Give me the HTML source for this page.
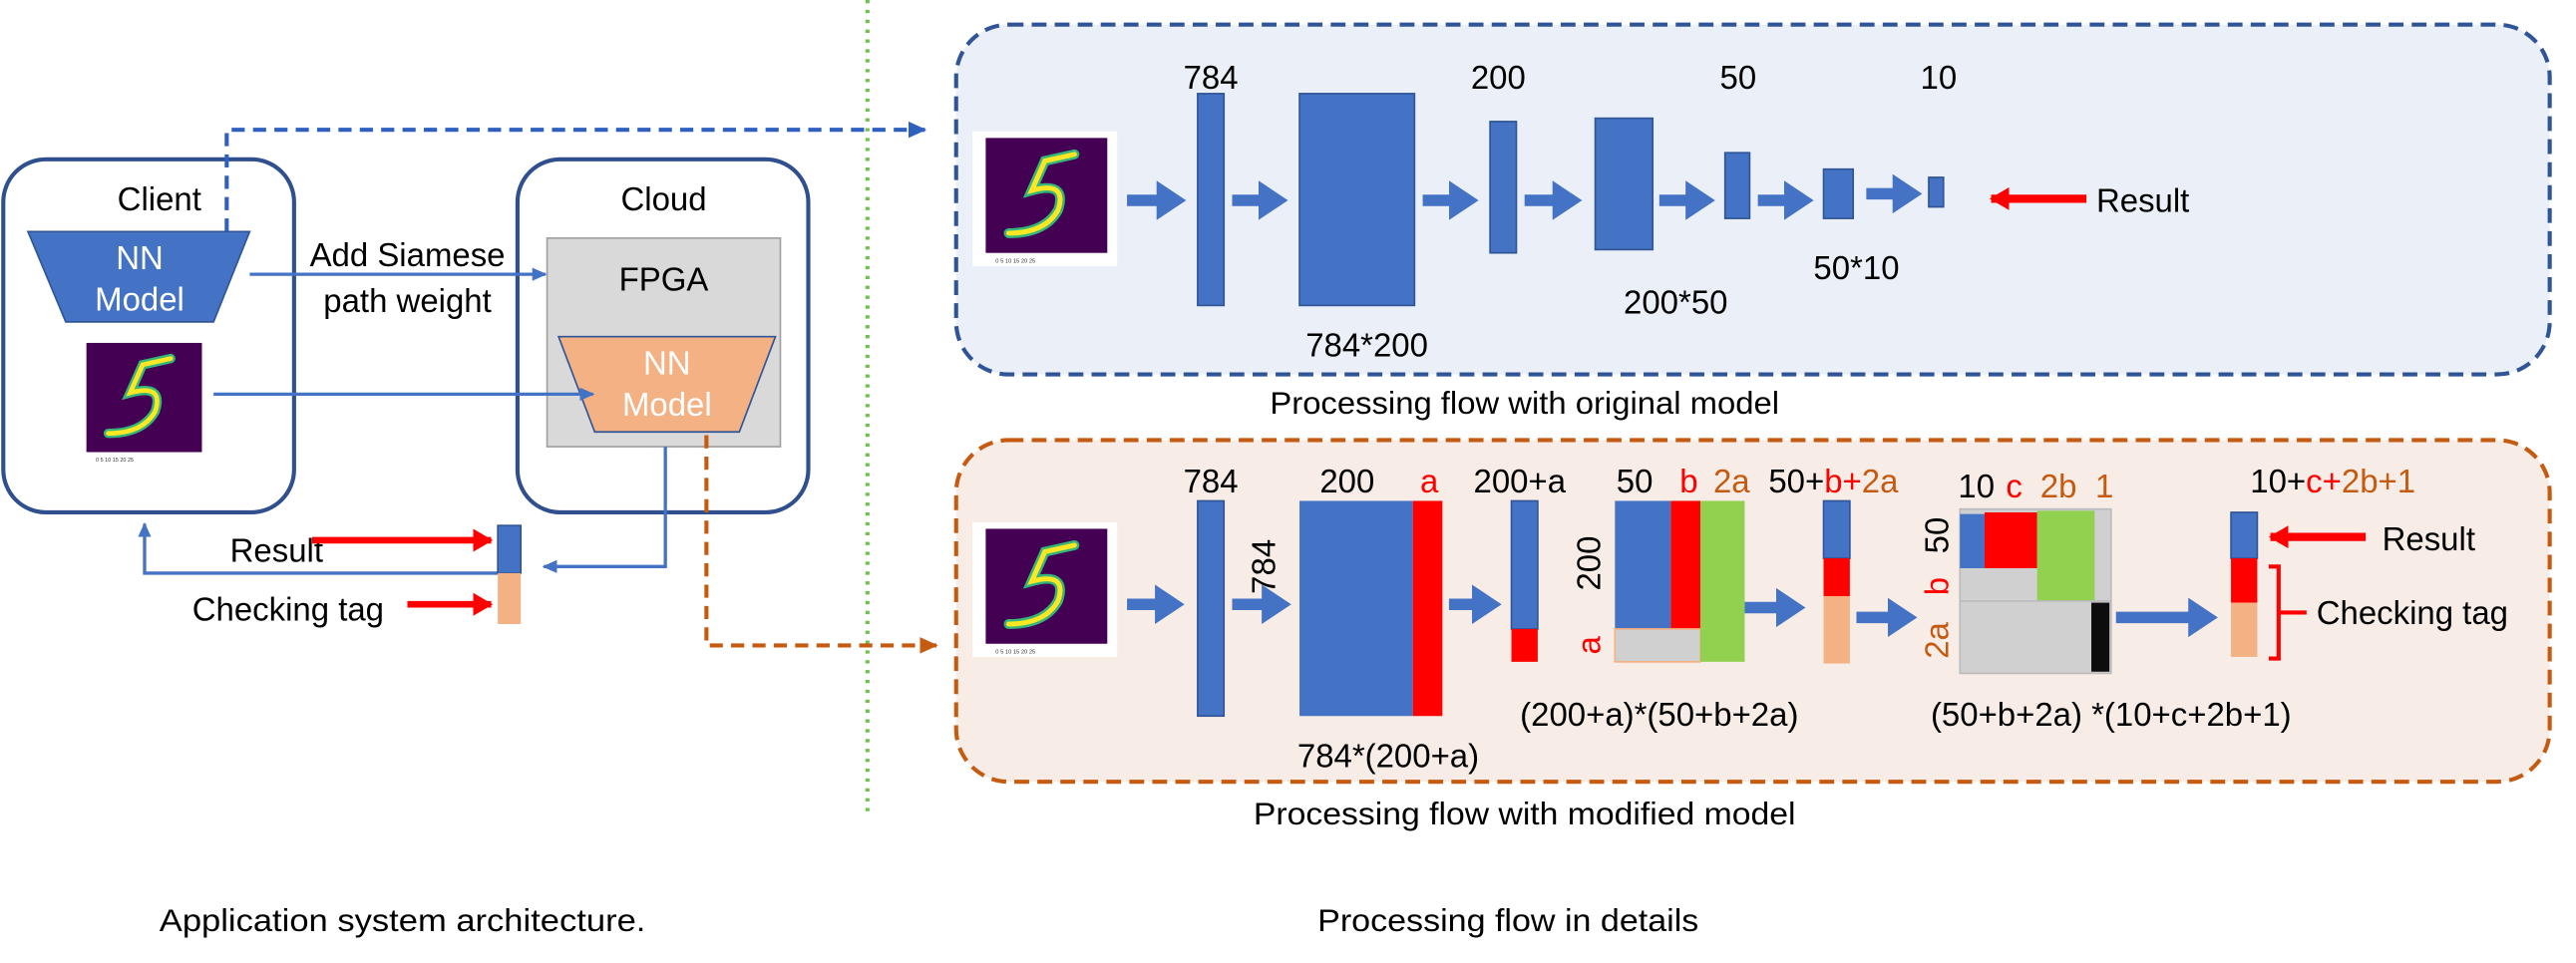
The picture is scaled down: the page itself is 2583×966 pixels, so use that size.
<!DOCTYPE html>
<html><head><meta charset="utf-8"><style>
html,body{margin:0;padding:0;background:#fff;width:2583px;height:966px;overflow:hidden}
svg{display:block}
text{font-family:"Liberation Sans",Arial,sans-serif}
</style></head><body>
<svg width="2583" height="966" viewBox="0 0 1568 586.4" xmlns="http://www.w3.org/2000/svg">
<defs>
<marker id="ah" markerWidth="10" markerHeight="10" refX="8" refY="5" orient="auto" markerUnits="userSpaceOnUse"><path d="M0,1 L9,5 L0,9 Z" fill="#4472c4"/></marker>
<marker id="ahd" markerWidth="12" markerHeight="12" refX="10" refY="6" orient="auto" markerUnits="userSpaceOnUse"><path d="M0,1 L11,6 L0,11 Z" fill="#2f5fbf"/></marker>
<marker id="aho" markerWidth="12" markerHeight="12" refX="10" refY="6" orient="auto" markerUnits="userSpaceOnUse"><path d="M0,1 L11,6 L0,11 Z" fill="#c55a11"/></marker>
<marker id="ahr" markerWidth="14" markerHeight="14" refX="11" refY="7" orient="auto" markerUnits="userSpaceOnUse"><path d="M0,0 L12,7 L0,14 Z" fill="#ff0000"/></marker>
<marker id="big" markerWidth="20" markerHeight="24" refX="2" refY="12" orient="auto" markerUnits="userSpaceOnUse"><path d="M0,0 L18,12 L0,24 Z" fill="#4472c4"/></marker>
<g id="mnist">
<rect x="0" y="0" width="88" height="82" fill="#fff"/>
<rect x="8" y="4" width="74" height="70" fill="#440154"/>
<path d="M62,14 L44,18 L36,36 Q58,30 52,48 Q44,62 22,62" stroke="#35b779" stroke-width="6" fill="none" stroke-linecap="round"/>
<path d="M62,14 L44,18 L36,36 Q58,30 52,48 Q44,62 22,62" stroke="#fde725" stroke-width="3" fill="none" stroke-linecap="round"/>
<text x="14" y="80" font-size="3.5" fill="#333">0  5  10  15  20  25</text>
</g>
</defs>

<line x1="528" y1="0" x2="528" y2="495" stroke="#70c050" stroke-width="2.5" stroke-dasharray="2,4"/>

<!-- Client -->
<rect x="2" y="97" width="177" height="215" rx="26" fill="#fff" stroke="#2f4f8f" stroke-width="2.5"/>
<text x="97" y="128" font-size="20" text-anchor="middle">Client</text>
<path d="M17,141 L152,141 L130,196 L40,196 Z" fill="#4472c4" stroke="#2f5597"/>
<text x="85" y="164" font-size="20" fill="#fff" text-anchor="middle">NN</text>
<text x="85" y="189" font-size="20" fill="#fff" text-anchor="middle">Model</text>
<use href="#mnist" transform="translate(45,205) scale(0.95)"/>

<!-- Cloud -->
<rect x="315" y="97" width="177" height="215" rx="26" fill="#fff" stroke="#2f4f8f" stroke-width="2.5"/>
<text x="404" y="128" font-size="20" text-anchor="middle">Cloud</text>
<rect x="333" y="145" width="142" height="127" fill="#d9d9d9" stroke="#a0a0a0"/>
<text x="404" y="177" font-size="20" text-anchor="middle">FPGA</text>
<path d="M340,205 L472,205 L450,263 L362,263 Z" fill="#f4b183" stroke="#2f5597"/>
<text x="406" y="228" font-size="20" fill="#fff" text-anchor="middle">NN</text>
<text x="406" y="253" font-size="20" fill="#fff" text-anchor="middle">Model</text>

<text x="248" y="162" font-size="20" text-anchor="middle">Add Siamese</text>
<text x="248" y="190" font-size="20" text-anchor="middle">path weight</text>
<line x1="152" y1="167" x2="332" y2="167" stroke="#4472c4" stroke-width="2" marker-end="url(#ah)"/>
<line x1="130" y1="240" x2="361" y2="240" stroke="#4472c4" stroke-width="2" marker-end="url(#ah)"/>

<path d="M138,141 L138,79 L563,79" fill="none" stroke="#2f5fbf" stroke-width="2.5" stroke-dasharray="8,5" marker-end="url(#ahd)"/>
<path d="M430,265 L430,393 L570,393" fill="none" stroke="#c55a11" stroke-width="2.5" stroke-dasharray="8,5" marker-end="url(#aho)"/>

<path d="M405,272 L405,345 L331,345" fill="none" stroke="#4472c4" stroke-width="2" marker-end="url(#ah)"/>
<path d="M303,349 L88,349 L88,319" fill="none" stroke="#4472c4" stroke-width="2" marker-end="url(#ah)"/>
<rect x="303" y="320" width="14" height="29" fill="#4472c4" stroke="#2f5597"/>
<rect x="303" y="349" width="14" height="31" fill="#f4b183"/>
<text x="140" y="342" font-size="20">Result</text>
<line x1="190" y1="329" x2="299" y2="329" stroke="#ff0000" stroke-width="4" marker-end="url(#ahr)"/>
<text x="117" y="378" font-size="20">Checking tag</text>
<line x1="248" y1="368" x2="299" y2="368" stroke="#ff0000" stroke-width="4" marker-end="url(#ahr)"/>

<!-- TOP PANEL -->
<rect x="582" y="15" width="970" height="213" rx="32" fill="#eaeff8" stroke="#2f5597" stroke-width="2.5" stroke-dasharray="9,5"/>
<use href="#mnist" transform="translate(592,80)"/>
<g fill="#4472c4" stroke="#2f5597" stroke-width="1">
<rect x="729" y="57" width="16" height="129"/>
<rect x="791" y="57" width="70" height="129"/>
<rect x="907" y="74" width="16" height="80"/>
<rect x="971" y="72" width="35" height="80"/>
<rect x="1050" y="93" width="15" height="40"/>
<rect x="1110" y="103" width="18" height="30"/>
<rect x="1174" y="108" width="9" height="18"/>
</g>
<g stroke="#4472c4" stroke-width="7" marker-end="url(#big)">
<line x1="686" y1="122" x2="706" y2="122"/>
<line x1="750" y1="122" x2="768" y2="122"/>
<line x1="866" y1="122" x2="884" y2="122"/>
<line x1="928" y1="122" x2="947" y2="122"/>
<line x1="1010" y1="122" x2="1028" y2="122"/>
<line x1="1070" y1="122" x2="1088" y2="122"/>
<line x1="1136" y1="118" x2="1154" y2="118"/>
</g>
<g font-size="20" text-anchor="middle">
<text x="737" y="54">784</text>
<text x="912" y="54">200</text>
<text x="1058" y="54">50</text>
<text x="1180" y="54">10</text>
<text x="832" y="217">784*200</text>
<text x="1020" y="191">200*50</text>
<text x="1130" y="170">50*10</text>
</g>
<line x1="1270" y1="121" x2="1212" y2="121" stroke="#ff0000" stroke-width="5" marker-end="url(#ahr)"/>
<text x="1276" y="129" font-size="20">Result</text>
<text x="928" y="252" font-size="19" text-anchor="middle" textLength="310" lengthAdjust="spacingAndGlyphs">Processing flow with original model</text>

<!-- BOTTOM PANEL -->
<rect x="582" y="268" width="970" height="208" rx="32" fill="#f8ece6" stroke="#c55a11" stroke-width="2.5" stroke-dasharray="9,5"/>
<use href="#mnist" transform="translate(592,318)"/>
<rect x="729" y="305" width="16" height="131" fill="#4472c4" stroke="#2f5597"/>
<rect x="791" y="305" width="69" height="131" fill="#4472c4"/>
<rect x="860" y="305" width="18" height="131" fill="#ff0000"/>
<rect x="920" y="305" width="16" height="78" fill="#4472c4" stroke="#2f5597"/>
<rect x="920" y="383" width="16" height="20" fill="#ff0000"/>
<rect x="983" y="305" width="34" height="78" fill="#4472c4"/>
<rect x="1017" y="305" width="18" height="78" fill="#ff0000"/>
<rect x="983" y="383" width="52" height="20" fill="#d0d0d0" stroke="#f4b183"/>
<rect x="1035" y="305" width="27" height="98" fill="#92d050"/>
<rect x="1110" y="305" width="16" height="35" fill="#4472c4" stroke="#2f5597"/>
<rect x="1110" y="340" width="16" height="23" fill="#ff0000"/>
<rect x="1110" y="363" width="16" height="41" fill="#f4b183"/>
<rect x="1193" y="310" width="92" height="56" fill="#d0d0d0" stroke="#bbb"/>
<rect x="1193" y="313" width="15" height="33" fill="#4472c4"/>
<rect x="1208" y="312" width="32" height="34" fill="#ff0000"/>
<rect x="1240" y="311" width="35" height="55" fill="#92d050"/>
<rect x="1193" y="366" width="92" height="44" fill="#d0d0d0" stroke="#bbb"/>
<rect x="1273" y="367" width="11" height="42" fill="#0d0d0d"/>
<rect x="1358" y="312" width="16" height="28" fill="#4472c4" stroke="#2f5597"/>
<rect x="1358" y="340" width="16" height="27" fill="#ff0000"/>
<rect x="1358" y="367" width="16" height="33" fill="#f4b183"/>
<g stroke="#4472c4" stroke-width="7" marker-end="url(#big)">
<line x1="686" y1="368" x2="705" y2="368"/>
<line x1="750" y1="368" x2="770" y2="368"/>
<line x1="882" y1="368" x2="898" y2="368"/>
<line x1="1062" y1="370" x2="1083" y2="370"/>
<line x1="1130" y1="376" x2="1151" y2="376"/>
<line x1="1288" y1="376" x2="1334" y2="376"/>
</g>
<g font-size="20" text-anchor="middle">
<text x="737" y="300">784</text>
<text x="820" y="300">200</text>
<text x="870" y="300" fill="#ff0000">a</text>
<text x="925" y="300">200+a</text>
<text x="995" y="300">50</text>
<text x="1028" y="300" fill="#ff0000">b</text>
<text x="1054" y="300" fill="#c55a11">2a</text>
<text x="1116" y="300">50+<tspan fill="#ff0000">b+</tspan><tspan fill="#c55a11">2a</tspan></text>
<text x="1203" y="303">10</text>
<text x="1226" y="303" fill="#ff0000">c</text>
<text x="1253" y="303" fill="#c55a11">2b</text>
<text x="1281" y="303" fill="#c55a11">1</text>
<text x="1420" y="300">10+<tspan fill="#ff0000">c+</tspan><tspan fill="#c55a11">2b+1</tspan></text>
<text x="845" y="467">784*(200+a)</text>
<text x="1010" y="442">(200+a)*(50+b+2a)</text>
<text x="1285" y="442">(50+b+2a) *(10+c+2b+1)</text>
</g>
<g font-size="20" text-anchor="middle">
<text transform="translate(776,345) rotate(-90)">784</text>
<text transform="translate(974,343) rotate(-90)">200</text>
<text transform="translate(974,393) rotate(-90)" fill="#ff0000">a</text>
<text transform="translate(1186,326) rotate(-90)">50</text>
<text transform="translate(1186,357) rotate(-90)" fill="#ff0000">b</text>
<text transform="translate(1186,390) rotate(-90)" fill="#c55a11">2a</text>
</g>
<line x1="1440" y1="327" x2="1382" y2="327" stroke="#ff0000" stroke-width="5" marker-end="url(#ahr)"/>
<text x="1450" y="335" font-size="20">Result</text>
<path d="M1381,345 L1387,345 L1387,401 L1381,401 M1387,373 L1404,373" fill="none" stroke="#ff0000" stroke-width="2.5"/>
<text x="1410" y="380" font-size="20">Checking tag</text>
<text x="928" y="502" font-size="19" text-anchor="middle" textLength="330" lengthAdjust="spacingAndGlyphs">Processing flow with modified model</text>

<text x="245" y="567" font-size="19" text-anchor="middle" textLength="296" lengthAdjust="spacingAndGlyphs">Application system architecture.</text>
<text x="918" y="567" font-size="19" text-anchor="middle" textLength="232" lengthAdjust="spacingAndGlyphs">Processing flow in details</text>
</svg>
</body></html>
